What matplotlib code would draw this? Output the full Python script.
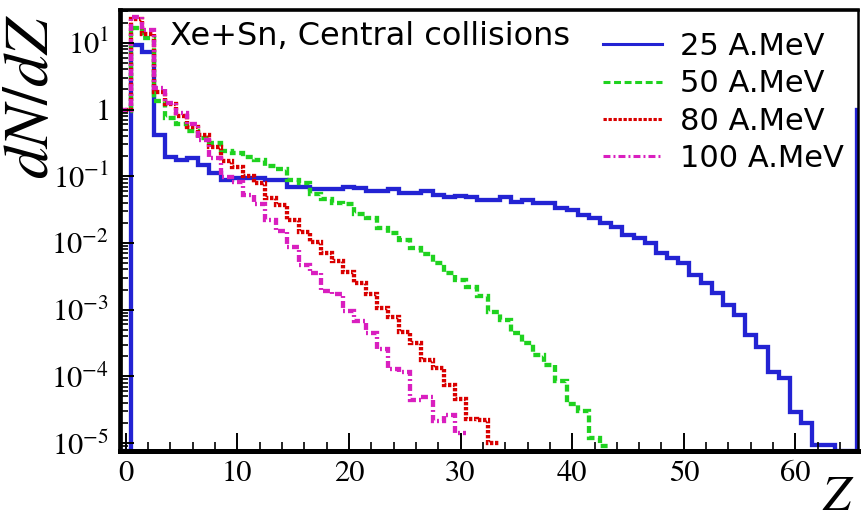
import numpy as np
import matplotlib
matplotlib.use("Agg")
import matplotlib.pyplot as plt
from matplotlib.lines import Line2D
from matplotlib.ticker import FixedLocator, FixedFormatter, MultipleLocator, LogLocator, NullFormatter

plt.rcParams['font.family'] = 'STIXGeneral'
plt.rcParams['mathtext.fontset'] = 'stix'
plt.rcParams['lines.scale_dashes'] = False

# dN/dZ per charge bin, index = Z (0, 1, 2, ...)
dndz_25 = [0, 9.3, 7.3, 0.42, 0.195, 0.176, 0.189, 0.148, 0.112, 0.088,
           0.095, 0.095, 0.095, 0.088, 0.088, 0.069, 0.069, 0.065, 0.065, 0.065,
           0.069, 0.067, 0.060, 0.060, 0.065, 0.056, 0.056, 0.060, 0.053, 0.049,
           0.051, 0.049, 0.044, 0.044, 0.049, 0.041, 0.044, 0.040, 0.040, 0.0336,
           0.0313, 0.0264, 0.0238, 0.0200, 0.0174, 0.0132, 0.0119, 0.0100, 0.0071, 0.0060,
           0.0050, 0.0033, 0.0025, 0.0018, 0.00118, 0.00083, 0.00042, 0.00028, 0.000116, 9.5e-5,
           2.9e-5, 2.0e-5, 9.4e-6, 9.4e-6, 0, 0, 1.0]
dndz_50 = [0.95, 16.8, 11.9, 1.35, 0.75, 0.60, 0.48, 0.38, 0.31, 0.24,
           0.22, 0.195, 0.176, 0.14, 0.13, 0.088, 0.080, 0.055, 0.046, 0.040,
           0.038, 0.027, 0.024, 0.017, 0.014, 0.011, 0.0084, 0.0068, 0.0050, 0.0035,
           0.0028, 0.0022, 0.0016, 0.00093, 0.00070, 0.00045, 0.00032, 0.00021, 0.00015, 8.6e-5,
           3.9e-5, 3.0e-5, 1.2e-5, 9.1e-6]
dndz_80 = [0.99, 22.9, 13.6, 1.84, 1.22, 0.80, 0.55, 0.42, 0.27, 0.17,
           0.138, 0.101, 0.080, 0.047, 0.037, 0.0222, 0.0147, 0.0104, 0.0071, 0.0054,
           0.0037, 0.0025, 0.0017, 0.00106, 0.00078, 0.00046, 0.00032, 0.000176, 0.000134, 7.5e-5,
           4.6e-5, 2.3e-5, 2.2e-5, 1.0e-5]
dndz_100 = [0.99, 24.5, 15.7, 2.11, 1.26, 0.89, 0.61, 0.35, 0.19, 0.098,
            0.082, 0.053, 0.0385, 0.0222, 0.0152, 0.0087, 0.0047, 0.0036, 0.0019, 0.0017,
            0.00096, 0.00068, 0.00045, 0.00026, 0.000129, 0.000116, 4.4e-5, 4.9e-5, 2.15e-5, 2.6e-5,
            1.42e-5]

series = [dndz_25, dndz_50, dndz_80, dndz_100]
labels = ["25 A.MeV", "50 A.MeV", "80 A.MeV", "100 A.MeV"]
colors = ["#2323d3", "#1fd21f", "#d90000", "#d91fbf"]
styles = ["-", (0, (5, 2.6)), (0, (2.4, 1.2)), (0, (5, 2.2, 1.4, 2.2))]

ymin, ymax = 7.6e-6, 31

fig = plt.figure(figsize=(8.61, 5.19), dpi=100)
ax = fig.add_axes([0.1394, 0.131, 0.8571, 0.8497])

for vals, c, ls in zip(series, colors, styles):
    vals = np.array(vals, dtype=float)
    edges = np.arange(len(vals) + 1) - 0.5
    # empty bins sit on the bottom of the frame
    ax.stairs(np.where(vals > 0, vals, ymin), edges, baseline=None,
              color=c, lw=3.1, linestyle=ls)

ax.set_yscale('log')
ax.set_xlim(-0.5, 65.6)
ax.set_ylim(ymin, ymax)

decades = [1e-5, 1e-4, 1e-3, 1e-2, 1e-1, 1, 10]
ax.yaxis.set_major_locator(FixedLocator(decades))
ax.yaxis.set_major_formatter(FixedFormatter([r'$10^{-5}$', r'$10^{-4}$', r'$10^{-3}$',
                                             r'$10^{-2}$', r'$10^{-1}$', r'$1$', r'$10^{1}$']))
ax.yaxis.set_minor_locator(LogLocator(base=10, subs=np.arange(2, 10)))
ax.yaxis.set_minor_formatter(NullFormatter())
ax.xaxis.set_major_locator(MultipleLocator(10))
ax.xaxis.set_minor_locator(MultipleLocator(2))

ax.tick_params(axis='y', which='major', direction='in', length=10, width=1.4,
               labelsize=22, pad=8, right=False)
ax.tick_params(axis='y', which='minor', direction='in', length=5.5, width=1.2, right=False)
ax.tick_params(axis='x', which='major', direction='in', length=13, width=1.4,
               labelsize=22, pad=7, top=False)
ax.tick_params(axis='x', which='minor', direction='in', length=6.5, width=1.2, top=False)

ax.spines['left'].set_linewidth(3.4)
ax.spines['bottom'].set_linewidth(3.6)
ax.spines['top'].set_linewidth(2.6)
ax.spines['right'].set_linewidth(1.8)

ax.set_xlabel(r'$Z$', fontsize=36, loc='right')
ax.xaxis.set_label_coords(0.995, -0.055)
ax.set_ylabel(r'$dN/dZ$', fontsize=46, loc='top')
ax.yaxis.set_label_coords(-0.078, 0.99)

ax.text(0.068, 0.921, "Xe+Sn, Central collisions", transform=ax.transAxes,
        fontsize=23, family='DejaVu Sans', ha='left', va='baseline')

handles = [Line2D([], [], color=c, lw=2.2, linestyle=ls) for c, ls in zip(colors, styles)]
ax.legend(handles, labels, loc='upper left', bbox_to_anchor=(0.654, 0.95),
          frameon=False, borderpad=0, borderaxespad=0, handlelength=1.93,
          handletextpad=0.6, labelspacing=0.27,
          prop={'family': 'DejaVu Sans', 'size': 22})

fig.savefig('out.png', dpi=100)
